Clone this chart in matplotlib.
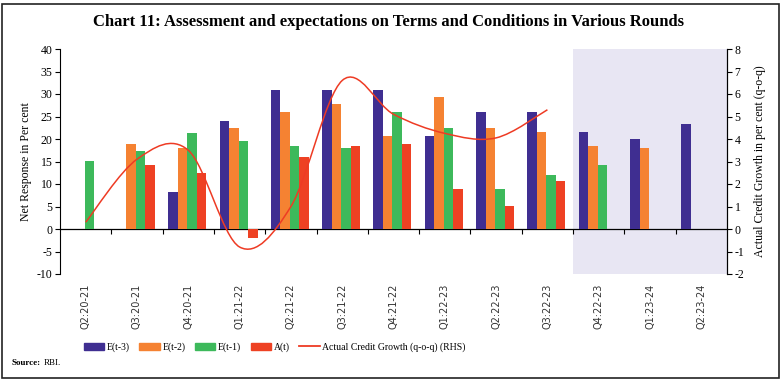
import numpy as np
from matplotlib import pyplot as plt
from matplotlib.path import Path
from matplotlib.patches import PathPatch, Rectangle, Patch
from matplotlib.lines import Line2D

plt.rcParams['axes.unicode_minus'] = False

# rounds on the x axis
rodadas = ['Q2:20-21', 'Q3:20-21', 'Q4:20-21', 'Q1:21-22', 'Q2:21-22', 'Q3:21-22',
           'Q4:21-22', 'Q1:22-23', 'Q2:22-23', 'Q3:22-23', 'Q4:22-23', 'Q1:23-24',
           'Q2:23-24']

# net response (per cent); None = no bar
e_t3 = [None, None, 8.2, 24.1, 31.0, 31.0, 31.0, 20.7, 26.0, 26.0, 21.5, 20.1, 23.3]
e_t2 = [None, 18.8, 18.1, 22.4, 26.0, 27.7, 20.7, 29.3, 22.4, 21.5, 18.4, 18.0, None]
e_t1 = [15.2, 17.3, 21.4, 19.6, 18.5, 17.9, 26.0, 22.4, 8.9, 12.1, 14.3, None, None]
a_t = [None, 14.2, 12.4, -1.9, 16.1, 18.5, 19.0, 8.9, 5.2, 10.7, None, None, None]

# actual credit growth q-o-q (RHS), Q2:20-21 .. Q3:22-23
credito = [0.3, 3.1, 3.5, -0.8, 1.0, 6.6, 5.1, 4.25, 4.05, 5.3]

cores = ['#3F2E91', '#F58232', '#3DB95B', '#EE4123']
nomes = ['E(t-3)', 'E(t-2)', 'E(t-1)', 'A(t)']
cor_linha = '#EE3B24'
serif = ['Liberation Serif', 'DejaVu Serif']


def curva_suave(xs, ys):
    '''caminho bezier no estilo "linha suavizada" do Excel (catmull-rom)'''
    pts = np.column_stack([xs, ys]).astype(float)
    ext = np.vstack([pts[0], pts, pts[-1]])
    verts = [pts[0]]
    codes = [Path.MOVETO]
    for i in range(len(pts) - 1):
        p0, p1, p2, p3 = ext[i], ext[i + 1], ext[i + 2], ext[i + 3]
        verts += [p1 + (p2 - p0) / 6, p2 - (p3 - p1) / 6, p2]
        codes += [Path.CURVE4] * 3
    return Path(verts, codes)


fig = plt.figure(figsize=(7.81, 3.82), dpi=100)
ax = fig.add_axes([60 / 781, 1 - 274 / 382, 667 / 781, 225 / 382])
ax2 = ax.twinx()

x = np.arange(len(rodadas))
largura = 0.185
ax.axvspan(9.5, 12.5, color='#E8E6F3', zorder=0, lw=0)
for k, serie in enumerate([e_t3, e_t2, e_t1, a_t]):
    vals = np.array([np.nan if v is None else v for v in serie])
    ax.bar(x + (k - 1.5) * largura - 0.02, vals, largura, color=cores[k], zorder=2)

ax.set_xlim(-0.5, 12.5)
ax.set_ylim(-10, 40)
ax.set_yticks(range(-10, 41, 5))
ax2.set_ylim(-2, 8)
ax2.set_yticks(range(-2, 9))

ax2.add_patch(PathPatch(curva_suave(x[:len(credito)], credito), fill=False,
                        edgecolor=cor_linha, lw=1.1, zorder=3))

for s in ['top', 'bottom']:
    ax.spines[s].set_visible(False)
for s in ['top', 'bottom', 'left']:
    ax2.spines[s].set_visible(False)
ax.spines['left'].set_linewidth(0.8)
ax2.spines['right'].set_linewidth(0.8)

# category labels below the plot, tick marks on the zero line
ax.set_xticks(x, rodadas, rotation=90, fontsize=7, color='#333333')
ax.tick_params(axis='x', length=0, pad=7)
eixo_zero = ax.secondary_xaxis(0.2)
eixo_zero.set_xticks(np.arange(0.5, 12, 1))
eixo_zero.tick_params(axis='x', direction='out', length=3.5, width=0.8, labelbottom=False)
eixo_zero.spines['bottom'].set_linewidth(0.9)

ax.tick_params(axis='y', direction='out', length=3.5, width=0.8, labelsize=8.5, pad=2)
ax2.tick_params(axis='y', direction='out', length=3.5, width=0.8, labelsize=8.5, pad=2)
for lab in ax.get_yticklabels() + ax2.get_yticklabels():
    lab.set_family(serif)

ax.set_ylabel('Net Response in Per cent', family=serif, fontsize=8.5, labelpad=3)
ax2.set_ylabel('Actual Credit Growth in per cent (q-o-q)', family=serif,
               fontsize=8.5, labelpad=7)

fig.text(0.497, 1 - 22 / 382, 'Chart 11: Assessment and expectations on Terms and '
         'Conditions in Various Rounds', ha='center', va='center',
         family=serif, weight='bold', fontsize=12)

handles = [Patch(color=c) for c in cores] + [Line2D([], [], color=cor_linha, lw=1.3)]
labels = nomes + ['Actual Credit Growth (q-o-q) (RHS)']
fig.legend(handles, labels, loc='center left', bbox_to_anchor=(80 / 781, 1 - 347 / 382),
           ncol=5, frameon=False, prop={'family': serif, 'size': 7},
           handlelength=2.1, handletextpad=0.25, columnspacing=1.0, borderaxespad=0)

fonte = fig.text(12 / 781, 1 - 363 / 382, 'Source:', family=serif, weight='bold',
                 fontsize=6.5, va='center')
ax.annotate('RBI.', xy=(1, 0.5), xycoords=fonte, xytext=(2, 0),
            textcoords='offset points', va='center', family=serif, fontsize=6.5,
            annotation_clip=False)

fig.patches.append(Rectangle((2 / 781, 4 / 382), 777 / 781, 374 / 382,
                             transform=fig.transFigure, fill=False,
                             edgecolor='#222222', lw=1.2))

fig.savefig('out.png', dpi=100)
